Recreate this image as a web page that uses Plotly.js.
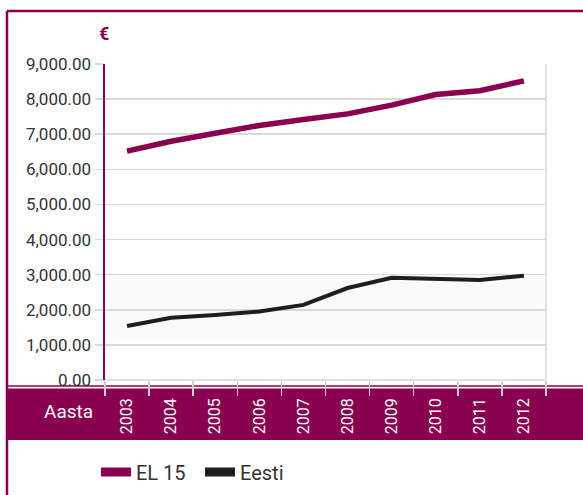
<!DOCTYPE html>
<html>
<head>
<meta charset="utf-8">
<script src="https://cdn.plot.ly/plotly-3.0.1.min.js"></script>
<style>
html,body{margin:0;padding:0;background:#fff;}
#chart{width:583px;height:495px;}
</style>
</head>
<body>
<div id="chart"></div>
<script>
var years = ['2003','2004','2005','2006','2007','2008','2009','2010','2011','2012'];
var el15 = [6520, 6800, 7030, 7250, 7420, 7580, 7830, 8130, 8240, 8520];
var eesti = [1540, 1770, 1850, 1950, 2140, 2620, 2910, 2880, 2850, 2970];
var yTicks = [0, 1000, 2000, 3000, 4000, 5000, 6000, 7000, 8000, 9000];
var seriesNames = ['EL 15', 'Eesti'];
var axisLabel = 'Aasta';
var unitLabel = '€';

var PURPLE = '#8a0050';
var DARK = '#1e1e1e';
var GRID = '#d9d9d9';
var FONT = 'Roboto, "Liberation Sans", sans-serif';

var W = 583, H = 495, ML = 105, MR = 37, MT = 64, MB = 115;
var PW = W - ML - MR, PH = H - MT - MB;
function px(p){ return (p - ML) / PW; }
function py(p){ return (H - MB - p) / PH; }

var traces = [
  {x: years, y: el15, type: 'scatter', mode: 'lines', name: seriesNames[0],
   line: {color: PURPLE, width: 5.5}, showlegend: false, hoverinfo: 'skip'},
  {x: years, y: eesti, type: 'scatter', mode: 'lines', name: seriesNames[1],
   line: {color: DARK, width: 4}, showlegend: false, hoverinfo: 'skip'},
  {x: [null], y: [null], type: 'scatter', mode: 'lines', name: seriesNames[0],
   line: {color: PURPLE, width: 9}, showlegend: true},
  {x: [null], y: [null], type: 'scatter', mode: 'lines', name: seriesNames[1],
   line: {color: DARK, width: 9}, showlegend: true}
];

var layout = {
  width: W, height: H,
  margin: {l: ML, r: MR, t: MT, b: MB, pad: 0, autoexpand: false},
  paper_bgcolor: '#fff', plot_bgcolor: 'rgba(0,0,0,0)',
  font: {family: FONT, color: '#333', size: 17},
  showlegend: true,
  legend: {orientation: 'h', xref: 'container', yref: 'container',
           x: 96 / W, xanchor: 'left', y: (H - 472) / H, yanchor: 'middle',
           font: {family: FONT, size: 20, color: '#333'}, bgcolor: 'rgba(0,0,0,0)',
           entrywidth: 59, entrywidthmode: 'pixels', tracegroupgap: 0},
  xaxis: {
    type: 'category', range: [-0.5, 9.5], tickson: 'boundaries',
    ticks: 'outside', ticklen: 15, tickcolor: '#cfcfcf', tickwidth: 1.5,
    tickangle: -90, tickfont: {family: FONT, size: 16, color: '#fff'},
    ticklabelstandoff: 14,
    showgrid: false, zeroline: false, showline: false, fixedrange: true,
    automargin: false
  },
  yaxis: {
    range: [0, 9000], tickvals: yTicks, tickformat: ',.2f',
    ticks: 'outside', ticklen: 8, tickcolor: GRID, tickwidth: 1.5,
    showgrid: true, gridcolor: GRID, gridwidth: 1.5,
    showline: true, linecolor: PURPLE, linewidth: 2.5,
    zeroline: false, tickfont: {family: FONT, size: 17, color: '#333'},
    fixedrange: true, automargin: false
  },
  shapes: [
    {type: 'rect', xref: 'x', yref: 'y', x0: -0.35, x1: 9.45, y0: 1150, y1: 3000,
     fillcolor: 'rgba(0,0,0,0.018)', line: {width: 0}, layer: 'below'},
    {type: 'line', xref: 'paper', yref: 'paper', x0: 1, x1: 1, y0: 0, y1: 1,
     line: {color: GRID, width: 1.5}, layer: 'below'},
    {type: 'line', xref: 'paper', yref: 'paper', x0: px(96), x1: 1, y0: 0, y1: 0,
     line: {color: GRID, width: 1.5}, layer: 'below'},
    {type: 'rect', xref: 'paper', yref: 'paper', x0: px(7), x1: px(600), y0: py(440), y1: py(388.5),
     fillcolor: PURPLE, line: {width: 0}, layer: 'below'},
    {type: 'line', xref: 'paper', yref: 'paper', x0: px(7), x1: px(600), y0: py(386), y1: py(386),
     line: {color: PURPLE, width: 1.5}, layer: 'below'},
    {type: 'line', xref: 'paper', yref: 'paper', x0: px(7), x1: px(600), y0: py(11), y1: py(11),
     line: {color: PURPLE, width: 2.5}, layer: 'below'},
    {type: 'line', xref: 'paper', yref: 'paper', x0: px(7), x1: px(7), y0: py(11), y1: py(510),
     line: {color: PURPLE, width: 2.5}, layer: 'below'}
  ],
  annotations: [
    {text: unitLabel, xref: 'paper', yref: 'paper', x: px(104), y: py(34),
     xanchor: 'center', yanchor: 'middle', showarrow: false,
     font: {family: FONT, size: 18, color: PURPLE, weight: 'bold'}},
    {text: axisLabel, xref: 'paper', yref: 'paper', x: px(68), y: py(411),
     xanchor: 'center', yanchor: 'middle', showarrow: false,
     font: {family: FONT, size: 19, color: '#fff'}}
  ]
};

Plotly.newPlot('chart', traces, layout, {displayModeBar: false, staticPlot: true});
</script>
</body>
</html>
